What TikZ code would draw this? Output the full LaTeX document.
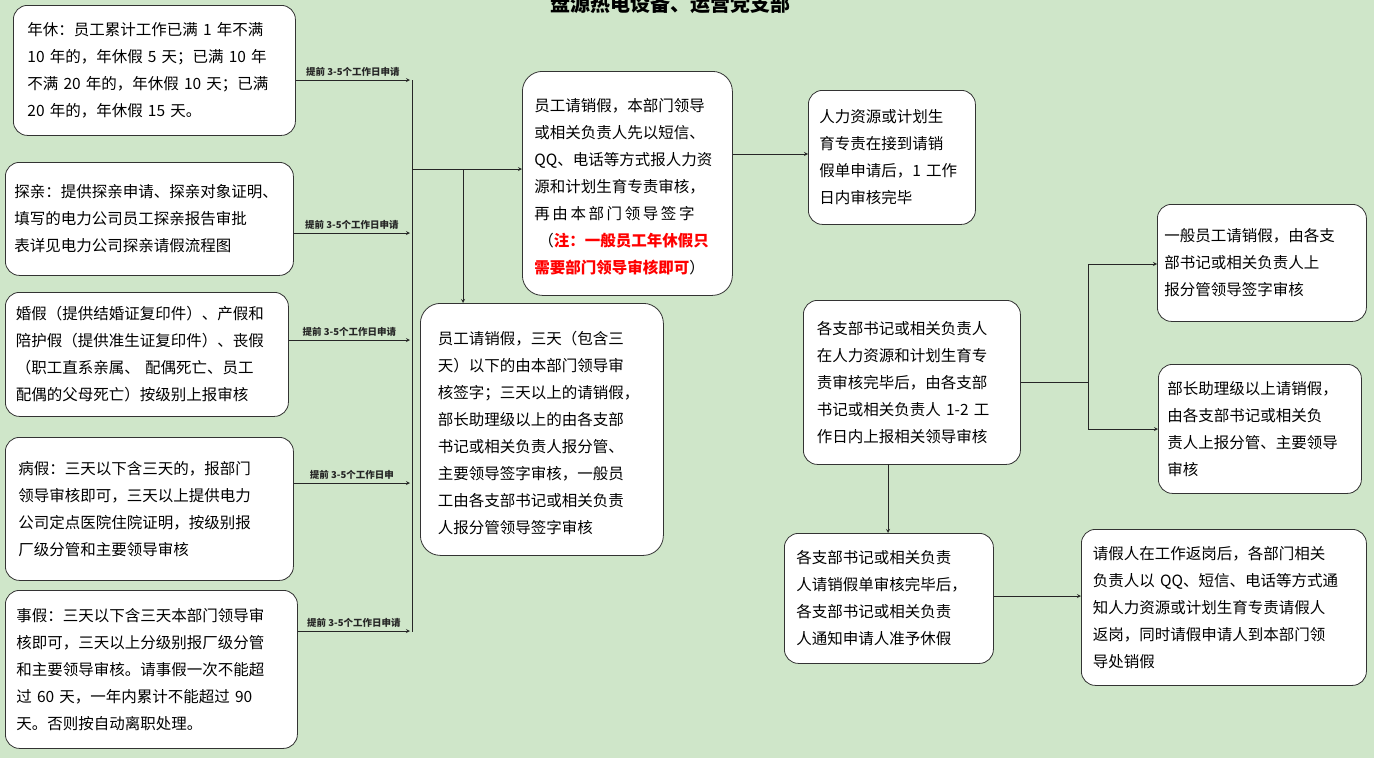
\documentclass[tikz,border=0pt]{standalone}
\usepackage{fontspec}
\setmainfont{Noto Sans CJK SC}
\usetikzlibrary{positioning}
\definecolor{bgreen}{RGB}{207,230,201}
\begin{document}
\begin{tikzpicture}[x=1pt,y=-1pt,>=stealth]
  \tikzstyle{box}=[draw=black!80,thick,fill=white,rounded corners=14pt,anchor=north west,align=left,inner sep=0pt,font=\fontsize{15.5}{27}\selectfont]
  \tikzstyle{tag}=[font=\fontsize{9.5}{10}\selectfont\bfseries,above]
  \tikzstyle{edge}=[draw,thick,black!85]
  \fill[bgreen] (0,0) rectangle (1374,758);
  \useasboundingbox (0,0) rectangle (1374,758);
  \node[font=\fontsize{20}{22}\selectfont\bfseries] (title) at (670,4) {盘源热电设备、运营党支部};
  % left column
  \node[box,minimum width=282,minimum height=130,text width=254] (nx) at (13,5) {年休：员工累计工作已满 1 年不满\\10 年的，年休假 5 天；已满 10 年\\不满 20 年的，年休假 10 天；已满\\20 年的，年休假 15 天。};
  \node[box,minimum width=288,minimum height=113,text width=270] (tq) at (5,162) {探亲：提供探亲申请、探亲对象证明、\\填写的电力公司员工探亲报告审批\\表详见电力公司探亲请假流程图};
  \node[box,minimum width=283,minimum height=124,text width=262] (hj) at (5,292) {婚假（提供结婚证复印件）、产假和\\陪护假（提供准生证复印件）、丧假\\（职工直系亲属、 配偶死亡、员工\\配偶的父母死亡）按级别上报审核};
  \node[box,minimum width=288,minimum height=143,text width=262] (bj) at (5,437) {病假：三天以下含三天的，报部门\\领导审核即可，三天以上提供电力\\公司定点医院住院证明，按级别报\\厂级分管和主要领导审核};
  \node[box,minimum width=292,minimum height=158,text width=270] (sj) at (5,590) {事假：三天以下含三天本部门领导审\\核即可，三天以上分级别报厂级分管\\和主要领导审核。请事假一次不能超\\过 60 天，一年内累计不能超过 90\\天。否则按自动离职处理。};
  \foreach \n/\y/\t in {nx/80/提前 3-5个工作日申请,tq/233/提前 3-5个工作日申请,hj/340/提前 3-5个工作日申请,bj/483/提前 3-5个工作日申,sj/631/提前 3-5个工作日申请}
    \path[edge,->] (\n.east |- 0,\y) -- node[tag] {\t} (410,\y);
  \coordinate (top) at (412,80);
  \coordinate (bot) at (412,632);
  \path[edge] (top) -- (bot);
  % middle column
  \node[box,minimum width=210,minimum height=224,text width=186,rounded corners=20pt] (xj) at (522,71) {\\[-8pt]员工请销假，本部门领导\\或相关负责人先以短信、\\QQ、电话等方式报人力资\\源和计划生育专责审核，\\再\,由\,本\,部\,门\,领\,导\,签\,字\\\hspace*{4pt}（\textcolor{red}{\bfseries 注：一般员工年休假只}\\\textcolor{red}{\bfseries 需要部门领导审核即可}）};
  \node[box,minimum width=243,minimum height=252,text width=208,rounded corners=20pt] (sd) at (420,303) {\\[-6pt]员工请销假，三天（包含三\\天）以下的由本部门领导审\\核签字；三天以上的请销假，\\部长助理级以上的由各支部\\书记或相关负责人报分管、\\主要领导签字审核，一般员\\工由各支部书记或相关负责\\人报分管领导签字审核};
  \coordinate (fork) at (463,169);
  \path[edge,->] (412,169) -- (xj.west |- fork);
  \path[edge,->] (fork) -- (sd.north -| fork);
  % right part
  \node[box,minimum width=167,minimum height=134,text width=145] (rl) at (808,90) {人力资源或计划生\\育专责在接到请销\\假单申请后，1 工作\\日内审核完毕};
  \path[edge,->] (xj.east |- 0,154) -- (rl.west |- 0,154);
  \node[box,minimum width=217,minimum height=164,text width=190] (zb) at (803,300) {各支部书记或相关负责人\\在人力资源和计划生育专\\责审核完毕后，由各支部\\书记或相关负责人 1-2 工\\作日内上报相关领导审核};
  \node[box,minimum width=209,minimum height=117,text width=195] (yb) at (1157,204) {一般员工请销假，由各支\\部书记或相关负责人上\\报分管领导签字审核};
  \node[box,minimum width=203,minimum height=129,text width=185] (bz) at (1158,364) {部长助理级以上请销假，\\由各支部书记或相关负\\责人上报分管、主要领导\\审核};
  \coordinate (split) at (1088,382);
  \path[edge] (zb.east |- split) -- (split);
  \path[edge,->] (split) |- (yb.west |- 0,264);
  \path[edge,->] (split) |- (bz.west |- 0,429);
  \node[box,minimum width=209,minimum height=130,text width=185] (wb) at (784,533) {各支部书记或相关负责\\人请销假单审核完毕后，\\各支部书记或相关负责\\人通知申请人准予休假};
  \path[edge,->] (888,464) -- (wb.north -| 888,0);
  \node[box,minimum width=285,minimum height=156,text width=262] (fg) at (1081,529) {请假人在工作返岗后，各部门相关\\负责人以 QQ、短信、电话等方式通\\知人力资源或计划生育专责请假人\\返岗，同时请假申请人到本部门领\\导处销假};
  \path[edge,->] (wb.east |- 0,596) -- (fg.west |- 0,596);
\end{tikzpicture}
\end{document}
